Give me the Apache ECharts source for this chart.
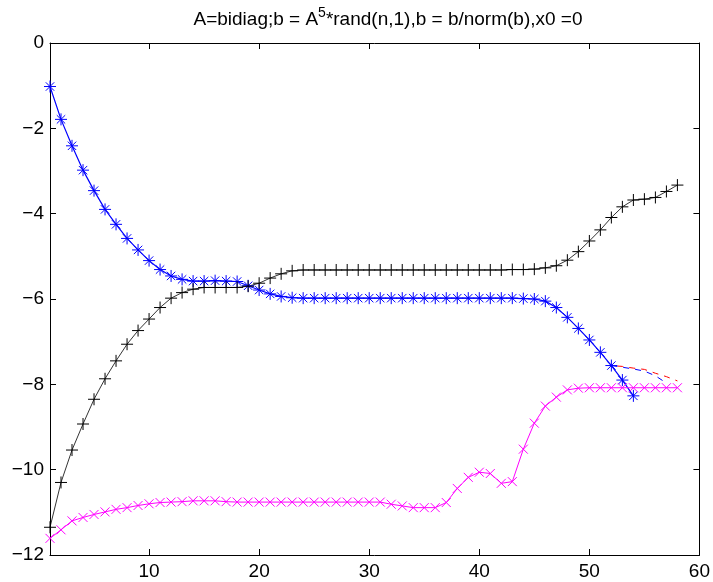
<!DOCTYPE html>
<html>
<head>
<meta charset="utf-8">
<script src="https://cdn.jsdelivr.net/npm/echarts@6/dist/echarts.min.js"></script>
<style>
  html, body { margin: 0; padding: 0; background: #fff; }
  #chart { width: 713px; height: 582px; }
</style>
</head>
<body>
<div id="chart"></div>
<script>
// 数据：x 为迭代步 1..n
const blueStar = [
  -1.02, -1.79, -2.41, -2.98, -3.46, -3.90, -4.25, -4.58, -4.85, -5.10,
  -5.31, -5.46, -5.54, -5.58, -5.58, -5.57, -5.58, -5.59, -5.69, -5.79,
  -5.88, -5.94, -5.97, -5.98, -5.98, -5.98, -5.98, -5.98, -5.98, -5.98,
  -5.98, -5.98, -5.98, -5.98, -5.98, -5.98, -5.98, -5.98, -5.98, -5.98,
  -5.98, -5.98, -5.98, -5.99, -6.0, -6.05, -6.20, -6.43, -6.69, -6.96,
  -7.25, -7.56, -7.90, -8.27
];
const blackPlus = [
  -11.35, -10.30, -9.54, -8.93, -8.35, -7.87, -7.45, -7.06, -6.74, -6.47,
  -6.20, -5.98, -5.85, -5.77, -5.73, -5.73, -5.73, -5.73, -5.70, -5.63,
  -5.51, -5.41, -5.34, -5.32, -5.32, -5.32, -5.32, -5.32, -5.32, -5.32,
  -5.32, -5.32, -5.32, -5.32, -5.32, -5.32, -5.32, -5.32, -5.32, -5.32,
  -5.32, -5.32, -5.31, -5.31, -5.30, -5.27, -5.22, -5.09, -4.89, -4.64,
  -4.38, -4.09, -3.84, -3.68, -3.66, -3.62, -3.48, -3.33
];
const magentaX = [
  -11.61, -11.41, -11.20, -11.12, -11.05, -10.99, -10.93, -10.89, -10.84, -10.80,
  -10.77, -10.76, -10.75, -10.73, -10.73, -10.73, -10.75, -10.76, -10.76, -10.76,
  -10.76, -10.76, -10.76, -10.76, -10.76, -10.76, -10.76, -10.76, -10.76, -10.76,
  -10.76, -10.81, -10.85, -10.89, -10.89, -10.89, -10.77, -10.44, -10.18, -10.06,
  -10.09, -10.32, -10.28, -9.52, -8.91, -8.51, -8.30, -8.13, -8.09, -8.08,
  -8.08, -8.08, -8.08, -8.08, -8.08, -8.08, -8.08, -8.08
];
// 末尾虚线（从第 52 步开始）
const dashStart = 52;
const redDash = [-7.56, -7.58, -7.62, -7.65, -7.74, -7.82, -7.92];
const blueDash = [-7.56, -7.60, -7.64, -7.69, -7.80, -7.97];
const xTicks = [10, 20, 30, 40, 50, 60];

const toPairs = (arr, start) => arr.map((v, i) => [start + i, v]);
const minus = (v) => String(v).replace('-', '\u2212');

const symStar = 'path://M0,-1L0,1M-1,0L1,0M-0.7,-0.7L0.7,0.7M-0.7,0.7L0.7,-0.7';
const symPlus = 'path://M0,-1L0,1M-1,0L1,0';
const symCross = 'path://M-1,-1L1,1M-1,1L1,-1';

const font = '"Liberation Sans", Arial, sans-serif';

const axisCommon = {
  axisLine: { show: true, onZero: false, lineStyle: { color: '#000', width: 1 } },
  axisTick: { show: true, inside: true, length: 6, lineStyle: { color: '#000' } },
  splitLine: { show: false },
};

const option = {
  animation: false,
  backgroundColor: '#fff',
  title: {
    left: 383,
    top: 1,
    textAlign: 'center',
    text: '{a|A=bidiag;b = A}{s|5}{a|*rand(n,1),b = b/norm(b),x0 =0}',
    textStyle: {
      fontWeight: 'normal',
      rich: {
        a: { fontFamily: font, fontSize: 19, fontWeight: 'normal', color: '#000', verticalAlign: 'bottom' },
        s: { fontFamily: font, fontSize: 14, fontWeight: 'normal', color: '#000', verticalAlign: 'bottom', padding: [0, 0, 9, 0] },
      },
    },
  },
  grid: { left: 50, right: 13, top: 43, bottom: 27 },
  xAxis: [
    {
      type: 'value', min: 1, max: 60, position: 'bottom',
      ...axisCommon,
      axisTick: { ...axisCommon.axisTick, customValues: xTicks },
      axisLabel: { customValues: xTicks, color: '#000', fontFamily: font, fontSize: 19, margin: 7 },
    },
    {
      type: 'value', min: 1, max: 60, position: 'top',
      ...axisCommon,
      axisTick: { ...axisCommon.axisTick, customValues: xTicks },
      axisLabel: { show: false },
    },
  ],
  yAxis: [
    {
      type: 'value', min: -12, max: 0, interval: 2, position: 'left',
      ...axisCommon,
      axisLabel: { color: '#000', fontFamily: font, fontSize: 19, margin: 6, formatter: minus },
    },
    {
      type: 'value', min: -12, max: 0, interval: 2, position: 'right',
      ...axisCommon,
      axisLabel: { show: false },
    },
  ],
  series: [
    {
      type: 'line', data: toPairs(blueDash, dashStart), showSymbol: false,
      lineStyle: { color: '#0000ff', width: 1, type: [6, 6] }, z: 3,
    },
    {
      type: 'line', data: toPairs(redDash, dashStart), showSymbol: false,
      lineStyle: { color: '#ff0000', width: 1, type: [6, 6], dashOffset: 6 }, z: 3,
    },
    {
      type: 'line', data: toPairs(blueStar, 1),
      symbol: symStar, symbolSize: 12,
      lineStyle: { color: '#0000ff', width: 1.2 },
      itemStyle: { color: 'transparent', borderColor: '#0000ff', borderWidth: 1 },
      z: 4,
    },
    {
      type: 'line', data: toPairs(blackPlus, 1),
      symbol: symPlus, symbolSize: 12,
      lineStyle: { color: '#000', width: 0.8 },
      itemStyle: { color: 'transparent', borderColor: '#000', borderWidth: 1 },
      z: 4,
    },
    {
      type: 'line', data: toPairs(magentaX, 1),
      symbol: symCross, symbolSize: 9,
      lineStyle: { color: '#ff00ff', width: 1 },
      itemStyle: { color: 'transparent', borderColor: '#ff00ff', borderWidth: 1 },
      z: 4,
    },
  ],
};

const chart = echarts.init(document.getElementById('chart'));
chart.setOption(option);
</script>
</body>
</html>
